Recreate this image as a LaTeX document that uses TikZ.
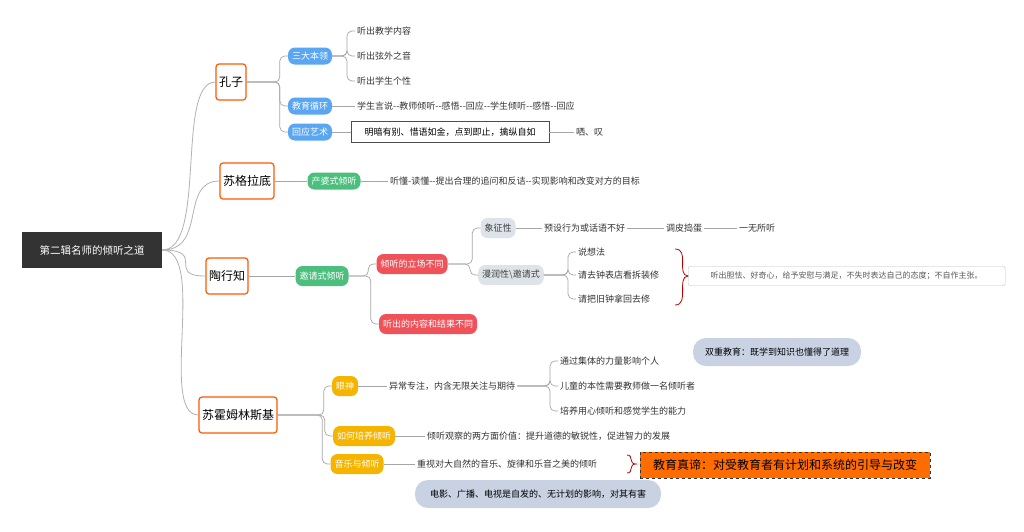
\documentclass[tikz,border=0pt]{standalone}
\usepackage{fontspec}
\setmainfont{Noto Sans CJK SC}
\begin{document}
\begin{tikzpicture}[x=1pt,y=-1pt,
 mainn/.style={draw=orange!70!red,line width=1.2pt,rounded corners=3pt,fill=white,font=\fontsize{12}{14}\selectfont,inner xsep=3pt,minimum height=36pt},
 pill/.style={rounded corners=7pt,font=\fontsize{9}{11}\selectfont,text=white,inner sep=4pt,minimum height=17pt},
 bluep/.style={pill,fill=blueP},
 greenp/.style={pill,fill=greenP},
 redp/.style={pill,fill=redP,minimum height=20pt},
 grayp/.style={pill,fill=grayP,text=black!75,minimum height=20pt},
 yelp/.style={pill,fill=yelP},
 leaf/.style={font=\fontsize{9}{11}\selectfont,text=black!80,inner sep=2pt,anchor=west},
 bub/.style={fill=bubC,rounded corners=13pt,font=\fontsize{9}{11}\selectfont,inner sep=8pt,minimum height=28pt},
 ln/.style={draw=gray!70,line width=0.7pt,rounded corners=5pt},
]
\definecolor{blueP}{HTML}{5AA6F0}
\definecolor{greenP}{HTML}{4CBF7E}
\definecolor{redP}{HTML}{F0525A}
\definecolor{grayP}{HTML}{DDE3E8}
\definecolor{yelP}{HTML}{F5B400}
\definecolor{bubC}{HTML}{C8D2E3}
\useasboundingbox[fill=white] (0,0) rectangle (1024,531);

\node[fill=black!80,text=white,font=\fontsize{10.5}{12}\selectfont,minimum width=140pt,minimum height=36pt] (root) at (92,250) {第二辑名师的倾听之道};

\node[mainn] (kz) at (231,82) {孔子};
\node[mainn] (sg) at (247,181) {苏格拉底};
\node[mainn] (tx) at (227,276) {陶行知};
\node[mainn] (sh) at (238,415) {苏霍姆林斯基};
\foreach \n in {kz,sg,tx,sh}
 \draw[gray!60,line width=0.8pt] (root.east) .. controls +(45,0) and +(-40,0) .. (\n.west);

% 孔子
\node[bluep] (k1) at (310,56) {三大本领};
\node[bluep] (k2) at (310,106) {教育循环};
\node[bluep] (k3) at (310,132) {回应艺术};
\foreach \n in {k1,k2,k3} \draw[ln] (kz.east) -| ([xshift=-8pt]\n.west) -- (\n.west);
\node[leaf] (k11) at (355,31) {听出教学内容};
\node[leaf] (k12) at (355,56) {听出弦外之音};
\node[leaf] (k13) at (355,81) {听出学生个性};
\foreach \n in {k11,k12,k13} \draw[ln] (k1.east) -| ([xshift=-8pt]\n.west) -- (\n.west);
\node[leaf] (k21) at (355,106) {学生言说-{}-教师倾听-{}-感悟-{}-回应-{}-学生倾听-{}-感悟-{}-回应};
\draw[ln] (k2.east) -- (k21.west);
\node[draw=black!70,font=\fontsize{9}{11}\selectfont,inner sep=4pt,minimum width=198pt,minimum height=21pt] (k31) at (450,132) {明暗有别、惜语如金，点到即止，擒纵自如};
\draw[ln] (k3.east) -- (k31.west);
\node[leaf] (k32) at (574,132) {哂、叹};
\draw[ln] (k31.east) -- (k32.west);

% 苏格拉底
\node[greenp] (s1) at (334,181) {产婆式倾听};
\draw[ln] (sg.east) -- (s1.west);
\node[leaf] (s11) at (388,181) {听懂-读懂-{}-提出合理的追问和反诘-{}-实现影响和改变对方的目标};
\draw[ln] (s1.east) -- (s11.west);

% 陶行知
\node[greenp,minimum height=20pt] (t1) at (322,276) {邀请式倾听};
\draw[ln] (tx.east) -- (t1.west);
\node[redp] (t2) at (412,264) {倾听的立场不同};
\node[redp] (t3) at (428,324) {听出的内容和结果不同};
\foreach \n in {t2,t3} \draw[ln] (t1.east) -| ([xshift=-8pt]\n.west) -- (\n.west);
\node[grayp] (t21) at (498,228) {象征性};
\node[grayp] (t22) at (511,275) {漫润性\textbackslash 邀请式};
\foreach \n in {t21,t22} \draw[ln] (t2.east) -| ([xshift=-8pt]\n.west) -- (\n.west);
\node[leaf] (a1) at (542,228) {预设行为或话语不好};
\node[leaf] (a2) at (664,228) {调皮捣蛋};
\node[leaf] (a3) at (737,228) {一无所听};
\draw[ln] (t21.east) -- (a1.west);
\draw[ln] (a1.east) -- (a2.west);
\draw[ln] (a2.east) -- (a3.west);
\node[leaf] (b1) at (576,252) {说想法};
\node[leaf] (b2) at (576,275) {请去钟表店看拆装修};
\node[leaf] (b3) at (576,299) {请把旧钟拿回去修};
\foreach \n in {b1,b2,b3} \draw[ln] (t22.east) -| ([xshift=-8pt]\n.west) -- (\n.west);
\coordinate (br1) at (675,249); \coordinate (br2) at (675,305);
\draw[red!70!black,line width=0.8pt] (br1) .. controls (690,249) and (676,275) .. (688,276) .. controls (676,277) and (690,305) .. (br2);
\node[draw=gray!50,rounded corners=2pt,font=\fontsize{8}{9}\selectfont,text=black!65,inner sep=4pt,anchor=west,minimum width=317pt,minimum height=19pt] (tnote) at (688,276) {听出胆怯、好奇心，给予安慰与满足，不失时表达自己的态度；不自作主张。};

% 苏霍姆林斯基
\node[yelp,minimum height=20pt] (h1) at (345,386) {眼神};
\node[yelp,minimum height=20pt] (h2) at (364,436) {如何培养倾听};
\node[yelp,minimum height=20pt] (h3) at (357,464) {音乐与倾听};
\foreach \n in {h1,h2,h3} \draw[ln] (sh.east) -| ([xshift=-8pt]\n.west) -- (\n.west);
\node[leaf] (h11) at (387,386) {异常专注，内含无限关注与期待};
\draw[ln] (h1.east) -- (h11.west);
\node[leaf] (c1) at (558,361) {通过集体的力量影响个人};
\node[leaf] (c2) at (558,386) {儿童的本性需要教师做一名倾听者};
\node[leaf] (c3) at (558,411) {培养用心倾听和感觉学生的能力};
\foreach \n in {c1,c2,c3} \draw[ln] (h11.east) -| ([xshift=-8pt]\n.west) -- (\n.west);
\node[leaf] (h21) at (425,436) {倾听观察的两方面价值：提升道德的敏锐性，促进智力的发展};
\draw[ln] (h2.east) -- (h21.west);
\node[leaf] (h31) at (415,464) {重视对大自然的音乐、旋律和乐音之美的倾听};
\draw[ln] (h3.east) -- (h31.west);
\draw[red!70!black,line width=0.8pt] (627,455) .. controls (634,455) and (628,464) .. (636,464) .. controls (628,464) and (634,473) .. (627,473);
\node[draw=black!80,dashed,fill=orange!85!red,line width=0.8pt,font=\fontsize{12}{14}\selectfont,inner sep=4pt,minimum height=26pt,minimum width=290pt] (truth) at (785,465) {教育真谛：对受教育者有计划和系统的引导与改变};
\node[bub,minimum width=168pt] (dual) at (777,352) {双重教育：既学到知识也懂得了道理};
\node[bub,minimum width=246pt] (film) at (538,494) {电影、广播、电视是自发的、无计划的影响，对其有害};
\end{tikzpicture}
\end{document}
